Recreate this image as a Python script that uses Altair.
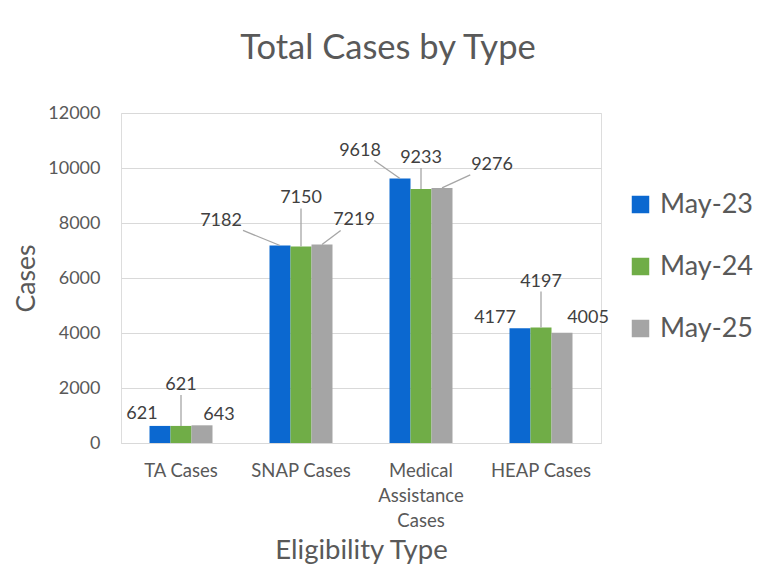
import math
import altair as alt
import pandas as pd

# ---------------- data ----------------
categories = ["TA Cases", "SNAP Cases", "Medical Assistance Cases", "HEAP Cases"]
series = ["May-23", "May-24", "May-25"]
may23 = [621, 7182, 9618, 4177]
may24 = [621, 7150, 9233, 4197]
may25 = [643, 7219, 9276, 4005]
y_ticks = [0, 2000, 4000, 6000, 8000, 10000, 12000]

# ---------------- style / layout ----------------
colors = ["#0B68D0", "#70AD47", "#A5A5A5"]
FONT = "Lato"
TXT = "#595959"
W, H, YMAX = 480, 330, 12000
N = len(categories)
STEP = W / N
P_INNER = 0.475
BAR = STEP * (1 - P_INNER) / len(series)

# data-label placement (pixel offsets from the top centre of each bar, as Excel placed them)
label_dx = [[-18, 0, 17], [-59, 0, 32], [-40, 0, 50], [-25, 0, 26]]
label_dy = [[-12, -41, -10], [-24, -48, -24], [-28, -31, -23], [-10, -46, -15]]

values = [may23, may24, may25]
rows, labels, leaders = [], [], []
for ci, cat in enumerate(categories):
    for si, s in enumerate(series):
        v = values[si][ci]
        rows.append({"cat": cat, "series": s, "value": v})
        bx = (ci + 0.5) * STEP + (si - 1) * BAR
        by = H - v * H / YMAX
        lx = bx + label_dx[ci][si]
        ly = by + label_dy[ci][si]
        labels.append({"lx": lx / STEP, "ly": (H - ly) / H * YMAX, "text": str(v)})
        # leader line: from bar top toward the label, stopping at the label box
        dx, dy = lx - bx, ly - by
        hw, hh = 22, 10
        fx = hw / abs(dx) if dx else float("inf")
        fy = hh / abs(dy) if dy else float("inf")
        t = 1 - min(fx, fy)
        length = t * math.hypot(dx, dy)
        if length > 15:
            ex, ey = bx + dx * t, by + dy * t
            leaders.append({"x1": bx / STEP, "y1": v, "x2": ex / STEP,
                            "y2": (H - ey) / H * YMAX})

df = pd.DataFrame(rows)
df_lab = pd.DataFrame(labels)
df_lead = pd.DataFrame(leaders)

bars = alt.Chart(df).mark_bar().encode(
    x=alt.X("cat:N", sort=categories,
            scale=alt.Scale(paddingInner=P_INNER, paddingOuter=P_INNER / 2),
            axis=alt.Axis(title="Eligibility Type", labelAngle=0,
                          labelExpr="length(datum.value) > 12 ? split(datum.value, ' ') : datum.value",
                          labelFontSize=18.5, labelColor=TXT, labelFont=FONT,
                          labelLineHeight=25, labelPadding=18, ticks=False,
                          domainColor="#D9D9D9", grid=False,
                          titleFontSize=27.5, titleColor=TXT, titleFont=FONT,
                          titleFontWeight="normal", titlePadding=7)),
    xOffset=alt.XOffset("series:N", sort=series,
                        scale=alt.Scale(paddingInner=0, paddingOuter=0)),
    y=alt.Y("value:Q", scale=alt.Scale(domain=[0, YMAX], nice=False),
            axis=alt.Axis(title="Cases", values=y_ticks, format="d",
                          labelFontSize=18, labelColor=TXT, labelFont=FONT,
                          labelPadding=21, ticks=False, domain=False,
                          gridColor="#D9D9D9",
                          titleFontSize=26.5, titleColor=TXT, titleFont=FONT,
                          titleFontWeight="normal", titlePadding=7)),
    color=alt.Color("series:N", sort=series,
                    scale=alt.Scale(domain=series, range=colors),
                    legend=alt.Legend(title=None, orient="none", legendX=506,
                                      legendY=78, symbolType="square",
                                      symbolSize=306, symbolStrokeWidth=0,
                                      labelFontSize=27, labelColor=TXT,
                                      labelFont=FONT, rowPadding=34,
                                      labelOffset=6, labelLimit=200)),
)

xq = alt.Scale(domain=[0, N], nice=False, zero=False)
yq = alt.Scale(domain=[0, YMAX], nice=False)

text = alt.Chart(df_lab).mark_text(
    fontSize=18, font=FONT, color="#404040", baseline="middle", align="center"
).encode(
    x=alt.X("lx:Q", scale=xq, axis=None),
    y=alt.Y("ly:Q", scale=yq, axis=None),
    text="text:N",
)

lead = alt.Chart(df_lead).mark_rule(color="#A6A6A6", strokeWidth=1.3).encode(
    x=alt.X("x1:Q", scale=xq, axis=None),
    x2="x2:Q",
    y=alt.Y("y1:Q", scale=yq, axis=None),
    y2="y2:Q",
)

chart = alt.layer(bars, lead, text).resolve_scale(
    x="independent", y="independent"
).properties(
    width=W, height=H,
    title=alt.TitleParams("Total Cases by Type", fontSize=34.5, font=FONT,
                          color=TXT, fontWeight="normal", anchor="middle",
                          baseline="alphabetic", dx=27, offset=11),
    autosize=alt.AutoSizeParams(type="none"),
    padding={"left": 113, "top": 105, "right": 157, "bottom": 125},
).configure_view(stroke=None).configure(background="white")

chart.save("out.html", embed_options={"renderer": "svg", "actions": False})
